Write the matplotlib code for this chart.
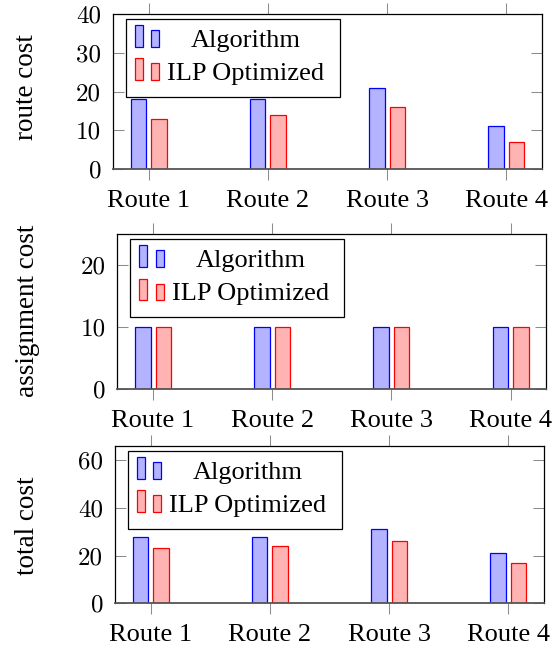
import numpy as np
import matplotlib.pyplot as plt
import matplotlib.transforms as mtransforms
from matplotlib.patches import Rectangle

# data
routes = ['Route 1', 'Route 2', 'Route 3', 'Route 4']
route_alg = [18, 18, 21, 11]
route_ilp = [13, 14, 16, 7]
assign_alg = [10, 10, 10, 10]
assign_ilp = [10, 10, 10, 10]
total_alg = [28, 28, 31, 21]
total_ilp = [23, 24, 26, 17]

ylabels = ['route cost', 'assignment cost', 'total cost']
ytop = [40, 25, 66]
yticks = [[0, 10, 20, 30, 40], [0, 10, 20], [0, 20, 40, 60]]

plt.rcParams['font.family'] = 'Liberation Serif'
plt.rcParams['font.size'] = 19

BLUE_EDGE = (0, 0, 1)
BLUE_FILL = (0.7, 0.7, 1)
RED_EDGE = (1, 0, 0)
RED_FILL = (1, 0.7, 0.7)
TICK_GREY = '#8c8c8c'

W, H = 559, 651
fig = plt.figure(figsize=(W / 100, H / 100), dpi=100)

# axes boxes in pixels: left, top, bottom
boxes = [(113, 14, 169), (117.3, 234.3, 389), (115, 446, 603.3)]
label_x = [26.5, 27, 28]
label_y = [87.5, 311, 526]
width_px = 429


# pgfplots-style legend: two little bars per entry, centred text
def draw_legend(ax):
    # pixel offsets from the top-left corner of the axes, y pointing down
    tr = mtransforms.Affine2D().scale(1, -1) + \
        mtransforms.ScaledTranslation(0, 1, ax.transAxes)
    ax.add_patch(Rectangle((13, 5), 214, 78, transform=tr, facecolor='white',
                           edgecolor='black', lw=0.9, clip_on=False, zorder=5))
    rows = [(BLUE_FILL, BLUE_EDGE, 'Algorithm', 11, 32.7),
            (RED_FILL, RED_EDGE, 'ILP Optimized', 44.3, 65.7)]
    for fill, edge, name, top, base in rows:
        ax.add_patch(Rectangle((22, top), 8, base - top, transform=tr,
                               facecolor=fill, edgecolor=edge, lw=0.9,
                               clip_on=False, zorder=6))
        ax.add_patch(Rectangle((38.3, top + 5), 8, base - top - 5, transform=tr,
                               facecolor=fill, edgecolor=edge, lw=0.9,
                               clip_on=False, zorder=6))
        ax.text(133, base, name, transform=tr, ha='center', va='baseline',
                fontsize=19, zorder=7)


series = [(route_alg, route_ilp), (assign_alg, assign_ilp), (total_alg, total_ilp)]
x = np.arange(len(routes))

for i, (alg, ilp) in enumerate(series):
    left, top, bottom = boxes[i]
    ax = fig.add_axes([left / W, (H - bottom) / H, width_px / W, (bottom - top) / H])

    ax.bar(x - 0.086, alg, 0.13, facecolor=BLUE_FILL, edgecolor=BLUE_EDGE, lw=0.9)
    ax.bar(x + 0.086, ilp, 0.13, facecolor=RED_FILL, edgecolor=RED_EDGE, lw=0.9)

    ax.set_xlim(-0.3, 3.3)
    ax.set_ylim(0, ytop[i])
    ax.set_xticks(x, routes)
    ax.set_yticks(yticks[i], [str(t) for t in yticks[i]],
                  fontfamily='cmr10', fontsize=18)

    ax.tick_params(axis='x', direction='out', length=7.9, width=0.75,
                   color=TICK_GREY, top=True, bottom=True, pad=7)
    ax.tick_params(axis='y', direction='in', length=7.9, width=0.75,
                   color=TICK_GREY, left=True, right=True, pad=8.5)
    for s in ax.spines.values():
        s.set_linewidth(0.9)
    ax.spines['bottom'].set_color('#555555')
    ax.spines['bottom'].set_linewidth(1.3)

    ax.set_ylabel(ylabels[i], fontsize=19.5, va='center')
    ax.yaxis.set_label_coords((label_x[i] - left) / width_px,
                              (bottom - label_y[i]) / (bottom - top))

    draw_legend(ax)

fig.savefig('out.png', dpi=100)
